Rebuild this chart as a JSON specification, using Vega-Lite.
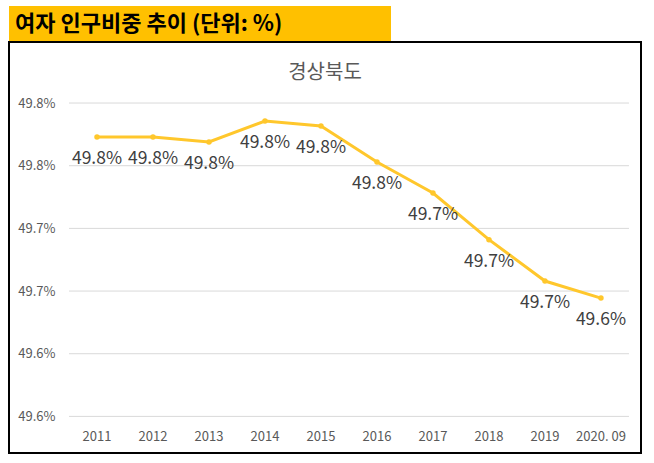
{
  "$schema": "https://vega.github.io/schema/vega-lite/v6.json",
  "background": "white",
  "padding": {"left": 8, "top": 6, "right": 0, "bottom": 0},
  "spacing": 0,
  "datasets": {
    "header": [{"label": "여자 인구비중 추이 (단위: %)"}],
    "grid": [
      {"v": 0.4955}, {"v": 0.496}, {"v": 0.4965},
      {"v": 0.497}, {"v": 0.4975}, {"v": 0.498}
    ],
    "ratio": [
      {"year": "2011", "value": 0.497729},
      {"year": "2012", "value": 0.497729},
      {"year": "2013", "value": 0.497690},
      {"year": "2014", "value": 0.497856},
      {"year": "2015", "value": 0.497817},
      {"year": "2016", "value": 0.497529},
      {"year": "2017", "value": 0.497282},
      {"year": "2018", "value": 0.496910},
      {"year": "2019", "value": 0.496580},
      {"year": "2020. 09", "value": 0.496444}
    ]
  },
  "vconcat": [
    {
      "width": 382,
      "height": 35,
      "view": {"fill": "#FFC000", "stroke": null},
      "data": {"name": "header"},
      "mark": {
        "type": "text",
        "align": "left",
        "baseline": "middle",
        "font": "Noto Sans CJK KR",
        "fontSize": 22,
        "fontWeight": "bold",
        "color": "#000000",
        "dx": 6
      },
      "encoding": {
        "x": {"datum": 0, "type": "quantitative", "scale": {"domain": [0, 1]}, "axis": null},
        "y": {"datum": 0.5, "type": "quantitative", "scale": {"domain": [0, 1]}, "axis": null},
        "text": {"field": "label"}
      }
    },
    {
      "width": 632,
      "height": 411,
      "view": {"fill": "white", "stroke": "#000000", "strokeWidth": 2},
      "title": {
        "text": "경상북도",
        "font": "Noto Sans CJK KR",
        "fontSize": 20,
        "fontWeight": "normal",
        "color": "#595959",
        "anchor": "middle",
        "offset": -41
      },
      "layer": [
        {
          "data": {"name": "grid"},
          "mark": {"type": "rule", "color": "#D9D9D9", "strokeWidth": 1},
          "encoding": {
            "y": {"field": "v", "type": "quantitative"},
            "x": {"datum": "2011", "type": "ordinal", "bandPosition": 0},
            "x2": {"datum": "2020. 09", "bandPosition": 1}
          }
        },
        {
          "data": {"name": "ratio"},
          "mark": {
            "type": "line",
            "color": "#FFC72C",
            "strokeWidth": 3,
            "point": {"filled": true, "size": 30, "color": "#FFC72C"}
          },
          "encoding": {
            "x": {"field": "year", "type": "ordinal"},
            "y": {"field": "value", "type": "quantitative"}
          }
        },
        {
          "data": {"name": "ratio"},
          "mark": {
            "type": "text",
            "dy": 22,
            "font": "Noto Sans CJK KR",
            "fontSize": 17.5,
            "color": "#404040"
          },
          "encoding": {
            "x": {"field": "year", "type": "ordinal"},
            "y": {"field": "value", "type": "quantitative"},
            "text": {"field": "value", "type": "quantitative", "format": ".1%"}
          }
        }
      ],
      "encoding": {
        "x": {
          "field": "year",
          "type": "ordinal",
          "scale": {"type": "band", "paddingInner": 0, "paddingOuter": 0.643, "align": 0.833},
          "axis": {
            "title": null,
            "orient": "bottom",
            "offset": -37,
            "domain": false,
            "ticks": false,
            "grid": false,
            "labelAngle": 0,
            "labelPadding": 14,
            "labelFont": "Noto Sans CJK KR",
            "labelFontSize": 13,
            "labelColor": "#595959"
          }
        },
        "y": {
          "field": "value",
          "type": "quantitative",
          "scale": {"domain": [0.495208, 0.498487], "nice": false, "zero": false},
          "axis": {
            "title": null,
            "orient": "left",
            "offset": -48,
            "values": [0.4955, 0.496, 0.4965, 0.497, 0.4975, 0.498],
            "labelExpr": "format(datum.value + 0.0000001, '.1%')",
            "domain": false,
            "ticks": false,
            "grid": false,
            "labelPadding": 2,
            "labelFont": "Noto Sans CJK KR",
            "labelFontSize": 13,
            "labelColor": "#595959"
          }
        }
      }
    }
  ]
}
